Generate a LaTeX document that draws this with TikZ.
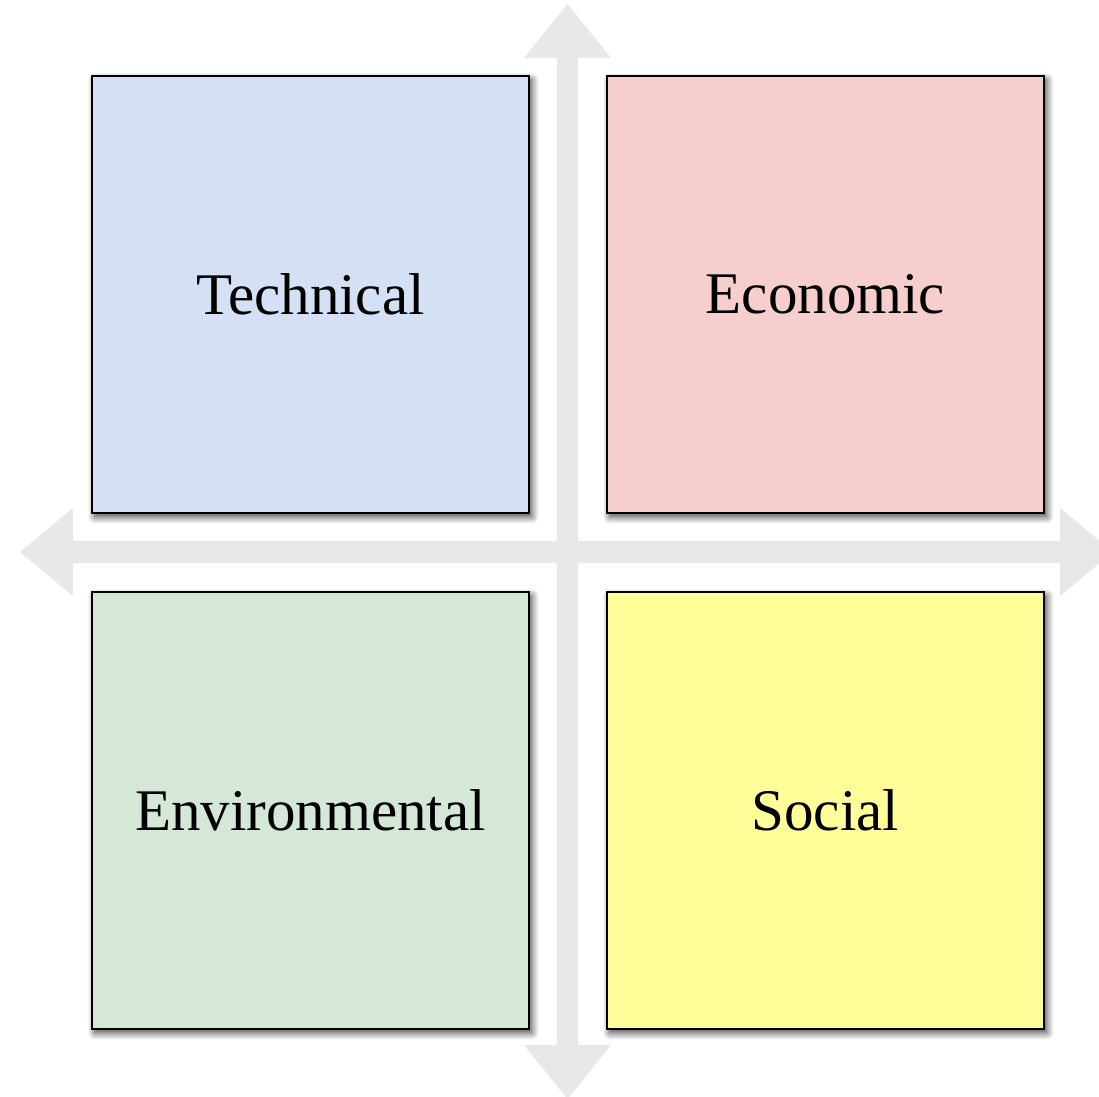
\documentclass[tikz,border=0pt]{standalone}
\usepackage{fontspec}
\setmainfont{Liberation Serif}
\usepackage{tikz}
\usetikzlibrary{shadows.blur}
\definecolor{techblue}{HTML}{D4E1F4}
\definecolor{econred}{HTML}{F6CECD}
\definecolor{envgreen}{HTML}{D5E7D6}
\definecolor{socyellow}{HTML}{FFFE99}
\definecolor{axisgray}{HTML}{E8E8E8}
\newcommand{\quadbox}[4]{\node(#1)[quad,fill=#2,anchor=north west] at (#3) {#4}}

\begin{document}
\begin{tikzpicture}[
        x=1pt, y=-1pt,
        every node/.style={font=\fontsize{59}{62}\selectfont},
        quad/.style={rectangle,minimum size=437pt,inner sep=0pt,
                     line width=1.8pt,draw=black,
                     blur shadow={shadow xshift=3pt,shadow yshift=-4pt,
                                  shadow blur radius=7pt,shadow blur steps=12,
                                  shadow opacity=75}},
        axis/.style={fill=axisgray,draw=none}
      ]
      \useasboundingbox (0,0) rectangle (1099,1096);
      \clip (0,0) rectangle (1099,1096);
      % vertical axis
      \fill[axis] (567.5,4) -- (611,58) -- (578,58) -- (578,1045) -- (611,1045)
                  -- (567.5,1099) -- (524,1045) -- (557,1045) -- (557,58)
                  -- (524,58) -- cycle;
      % horizontal axis
      \fill[axis] (20,552) -- (73,508) -- (73,541) -- (1060,541) -- (1060,508)
                  -- (1113,552) -- (1060,596) -- (1060,563) -- (73,563)
                  -- (73,596) -- cycle;
      % the four fields
      \quadbox{tech}{techblue}{91,75}{Technical};
      \quadbox{econ}{econred}{606,75}{Economic};
      \quadbox{env}{envgreen}{91,591}{Environmental};
      \quadbox{soc}{socyellow}{606,591}{Social};
    \end{tikzpicture}
\end{document}
